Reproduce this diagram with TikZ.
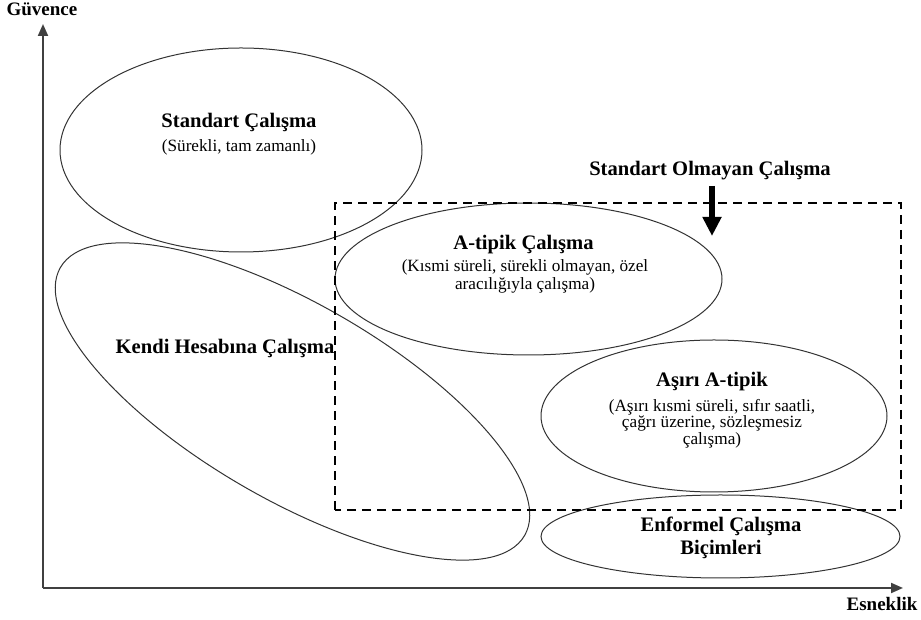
\documentclass[tikz,border=0pt]{standalone}
\usepackage{fontspec}
\setmainfont{Liberation Serif}
\usetikzlibrary{arrows.meta}

\tikzset{
  baslik/.style={font=\bfseries\fontsize{10.3}{11.5}\selectfont, anchor=base, inner sep=0pt},
  aciklama/.style={font=\fontsize{8.6}{8.6}\selectfont, align=center, inner sep=0pt},
  eksenyazi/.style={font=\bfseries\fontsize{9.5}{11}\selectfont, anchor=base, inner sep=0pt},
  eksen/.style={line width=1pt, black!75, -{Triangle[length=6pt,width=5pt]}},
  kume/.style={line width=0.5pt, black!80},
}

\begin{document}
\begin{tikzpicture}[x=0.5pt,y=0.5pt]
 \useasboundingbox (0,0) rectangle (921,620);
 % eksenler
 \coordinate (O) at (43,32);
 \coordinate (ytip) at (43,596);
 \coordinate (xtip) at (903,32);
 \draw[eksen] (O) -- (ytip);
 \draw[eksen] (O) -- (xtip);
 \node (guvence) [eksenyazi] at (42,604) {Güvence};
 \node (esneklik) [eksenyazi] at (882,9) {Esneklik};

 % kumeler
 \draw[kume] (241,470) ellipse [x radius=181, y radius=102];
 \draw[kume, rotate around={-30:(292.5,218.5)}] (292.5,218.5) ellipse [x radius=268, y radius=98];
 \draw[kume] (528.5,341) ellipse [x radius=193.5, y radius=76];
 \draw[kume] (714,204) ellipse [x radius=173, y radius=76];
 \draw[kume] (720.5,83.5) ellipse [x radius=179.5, y radius=41.5];
 \draw[line width=1.2pt, dash pattern=on 4.5pt off 3pt] (335,110) rectangle (901,417);

 % yazilar
 \node (standart) [baslik] at (239,492) {Standart Çalışma};
 \node (standartA) [aciklama, anchor=base] at (239,468) {(Sürekli, tam zamanlı)};
 \node (kendi) [baslik] at (225,266) {Kendi Hesabına Çalışma};
 \node (atipik) [baslik] at (523.5,370) {A-tipik Çalışma};
 \node (atipikA) [aciklama, font=\fontsize{8.6}{9}\selectfont] at (525,344)
   {(Kısmi süreli, sürekli olmayan, özel\\aracılığıyla çalışma)};
 \node (asiri) [baslik] at (712,233) {Aşırı A-tipik};
 \node (asiriA) [aciklama, font=\fontsize{8.6}{7.8}\selectfont] at (712,196)
   {(Aşırı kısmi süreli, sıfır saatli,\\çağrı üzerine, sözleşmesiz\\çalışma)};
 \node (enformel) [baslik, anchor=center, align=center, font=\bfseries\fontsize{10.3}{11.5}\selectfont] at (721,82.5)
   {Enformel Çalışma\\Biçimleri};
 \node (olmayan) [baslik] at (710,444) {Standart Olmayan Çalışma};

 % ok
 \coordinate (okbas) at (712,434);
 \coordinate (okuc) at (712,384);
 \draw[line width=3pt, -{Triangle[length=9.5pt,width=9pt]}] (okbas) -- (okuc);
\end{tikzpicture}
\end{document}
